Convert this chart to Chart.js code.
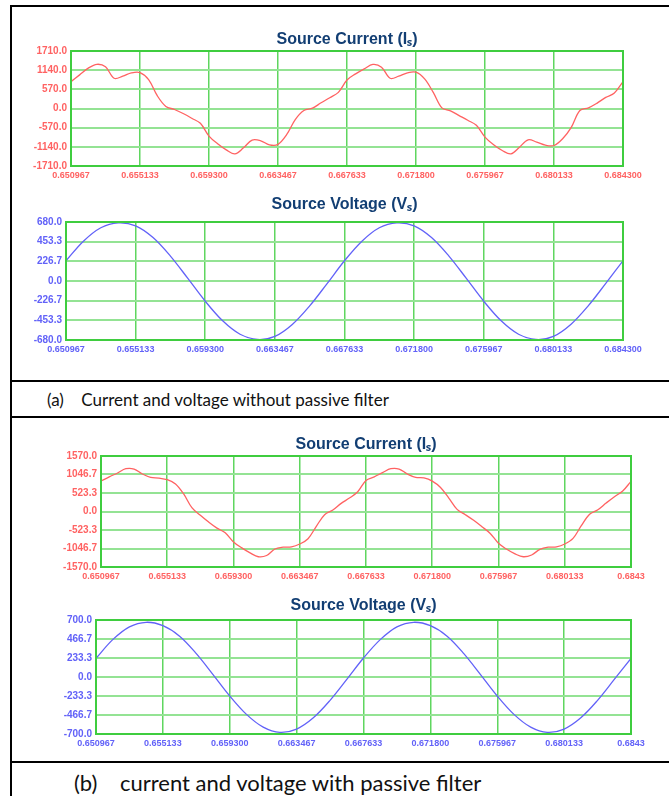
<!DOCTYPE html>
<html>
<head>
<meta charset="utf-8">
<script src="https://cdn.jsdelivr.net/npm/chart.js@4.4.1/dist/chart.umd.min.js"></script>
<style>
  body { margin: 0; background: #fff; width: 669px; height: 796px; overflow: hidden; position: relative; }
  .rule { position: absolute; background: #000; }
  .cap { position: absolute; font-family: Lato, 'Liberation Sans', sans-serif; color: #111; white-space: pre; line-height: 1; }
  canvas { position: absolute; }
</style>
</head>
<body>
<div class="rule" style="left:10px;top:5px;width:659px;height:2px"></div>
<div class="rule" style="left:10px;top:5px;width:2px;height:791px"></div>
<div class="rule" style="left:10px;top:380px;width:659px;height:2px"></div>
<div class="rule" style="left:10px;top:416px;width:659px;height:2px"></div>
<div class="rule" style="left:10px;top:761px;width:659px;height:2px"></div>
<div class="cap" id="capA" style="left:47px;top:391px;font-size:17px">(a)    Current and voltage without passive filter</div>
<div class="cap" id="capB" style="left:74px;top:772px;font-size:22px">(b)    current and voltage with passive filter</div>

<canvas id="curA" width="640" height="156" style="left:13px;top:30px"></canvas>
<canvas id="volA" width="640" height="165" style="left:13px;top:195px"></canvas>
<canvas id="curB" width="648" height="152" style="left:13px;top:435px"></canvas>
<canvas id="volB" width="648" height="158" style="left:13px;top:596px"></canvas>

<script>
// time axis (s)
const T_START = 0.650967;
const T_END = 0.6843;
const xTicks = [0.650967, 0.655133, 0.6593, 0.663467, 0.667633, 0.6718, 0.675967, 0.680133, 0.6843];
const xLabelsA = ['0.650967', '0.655133', '0.659300', '0.663467', '0.667633', '0.671800', '0.675967', '0.680133', '0.684300'];
const xLabelsB = ['0.650967', '0.655133', '0.659300', '0.663467', '0.667633', '0.671800', '0.675967', '0.680133', '0.6843'];

// y ticks
const yTicksCurA = [-1710, -1140, -570, 0, 570, 1140, 1710];
const yTicksVolA = [-680, -453.3, -226.7, 0, 226.7, 453.3, 680];
const yTicksCurB = [-1570, -1046.7, -523.3, 0, 523.3, 1046.7, 1570];
const yTicksVolB = [-700, -466.7, -233.3, 0, 233.3, 466.7, 700];

// source current without filter (A), 65 evenly spaced samples
const currentA = [
  798, 1000, 1200, 1314, 1240, 900, 960, 1060, 1070, 860, 380, 60, -30, -150, -290, -440,
  -820, -1050, -1230, -1350, -1170, -940, -960, -1080, -1066, -780, -330, -60, 10, 170, 320, 480,
  848, 1030, 1180, 1310, 1230, 900, 960, 1060, 1080, 880, 480, 20, -70, -210, -350, -500,
  -850, -1080, -1250, -1350, -1150, -930, -1000, -1090, -1100, -900, -560, -60, 20, 160, 330, 460,
  798
];

// source voltage without filter (V), 33 evenly spaced samples
const voltageA = [
  233, 459, 614, 670, 636, 501, 287, 30, -233, -459, -614, -674, -639, -501, -287, -30,
  233, 459, 614, 670, 636, 501, 287, 30, -233, -459, -614, -674, -639, -501, -287, -30,
  233
];

// source current with passive filter (A), 65 evenly spaced samples
const currentB = [
  863, 980, 1090, 1210, 1200, 1060, 965, 945, 900, 780, 490, 100, -108, -300, -470, -600,
  -860, -1030, -1170, -1280, -1245, -1060, -1010, -1000, -920, -770, -420, -90, 40, 230, 380, 560,
  880, 980, 1100, 1210, 1200, 1060, 965, 950, 860, 680, 380, 60, -90, -250, -430, -620,
  -900, -1070, -1200, -1280, -1230, -1070, -1010, -1000, -920, -760, -400, -80, 50, 240, 420, 580,
  853
];

// source voltage with passive filter (V), 33 evenly spaced samples
const voltageB = [
  229, 459, 616, 672, 630, 501, 287, 30, -233, -459, -616, -680, -639, -501, -287, -30,
  233, 459, 616, 672, 630, 501, 287, 30, -233, -459, -616, -680, -639, -501, -287, -30,
  229
];

const RED = '#ff6262';
const BLUE = '#6262f8';
const TITLE = '#123e73';

function toPoints(values) {
  const step = (T_END - T_START) / (values.length - 1);
  return values.map((v, i) => ({ x: T_START + i * step, y: v }));
}

const frameBox = {
  id: 'frameBox',
  afterDraw(chart) {
    const a = chart.chartArea;
    const ctx = chart.ctx;
    ctx.save();
    ctx.strokeStyle = '#3fcd3f';
    ctx.lineWidth = 2;
    ctx.strokeRect(a.left, a.top, a.right - a.left, a.bottom - a.top);
    ctx.restore();
  }
};

function makeChart(id, values, color, yTicks, xLabels, title, yWidth, titlePad) {
  new Chart(document.getElementById(id), {
    type: 'scatter',
    data: {
      datasets: [{
        data: toPoints(values),
        showLine: true,
        borderColor: color,
        borderWidth: 1.3,
        pointRadius: 0,
        tension: 0.35
      }]
    },
    options: {
      responsive: false,
      animation: false,
      layout: { padding: { left: 0, right: 30, top: 0, bottom: 0 } },
      plugins: {
        legend: { display: false },
        tooltip: { enabled: false },
        title: {
          display: true,
          text: title,
          fullSize: false,
          color: TITLE,
          font: { family: "'Liberation Sans Narrow', 'Liberation Sans', sans-serif", size: 16, weight: 'bold' },
          padding: { top: 0, bottom: titlePad }
        }
      },
      scales: {
        x: {
          type: 'linear',
          min: T_START,
          max: T_END,
          afterBuildTicks: s => { s.ticks = xTicks.map(v => ({ value: v })); },
          afterFit: s => { s.height = 20; },
          grid: { color: '#5fd65f', lineWidth: 1.5, drawTicks: false },
          border: { display: false },
          ticks: {
            autoSkip: false,
            maxRotation: 0,
            padding: 4,
            color: color,
            font: { family: "'Liberation Sans', sans-serif", size: 9, weight: 'bold' },
            callback: (v, i) => xLabels[i]
          }
        },
        y: {
          min: yTicks[0],
          max: yTicks[yTicks.length - 1],
          afterBuildTicks: s => { s.ticks = yTicks.map(v => ({ value: v })); },
          afterFit: s => { s.width = yWidth; },
          grid: { color: '#94e394', lineWidth: 2, drawTicks: false },
          border: { display: false },
          ticks: {
            padding: 4,
            color: color,
            font: { family: "'Liberation Sans', sans-serif", size: 10, weight: 'bold' },
            callback: (v, i) => yTicks[i].toFixed(1)
          }
        }
      }
    },
    plugins: [frameBox]
  });
}

makeChart('curA', currentA, RED, yTicksCurA, xLabelsA, 'Source Current (Iₛ)', 58, 1.8);
makeChart('volA', voltageA, BLUE, yTicksVolA, xLabelsA, 'Source Voltage (Vₛ)', 53, 7.8);
makeChart('curB', currentB, RED, yTicksCurB, xLabelsB, 'Source Current (Iₛ)', 88, 1.8);
makeChart('volB', voltageB, BLUE, yTicksVolB, xLabelsB, 'Source Voltage (Vₛ)', 83, 4.8);
</script>
</body>
</html>
